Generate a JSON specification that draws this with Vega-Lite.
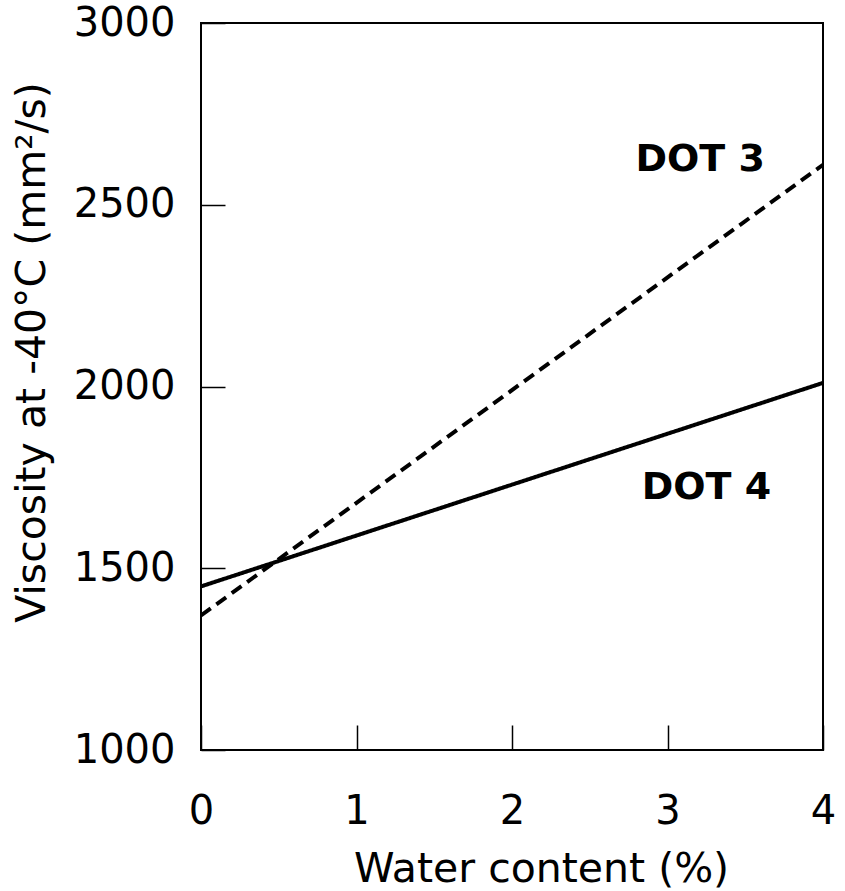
{
  "$schema": "https://vega.github.io/schema/vega-lite/v6.json",
  "width": 622,
  "height": 727,
  "autosize": "none",
  "padding": {"left": 201, "top": 23, "right": 22, "bottom": 141},
  "background": "white",
  "config": {
    "view": {"stroke": "black", "strokeWidth": 2},
    "font": "DejaVu Sans",
    "axis": {
      "domain": false,
      "grid": false,
      "tickColor": "black",
      "tickWidth": 1.5,
      "labelColor": "black",
      "titleColor": "black",
      "labelFont": "DejaVu Sans",
      "titleFont": "DejaVu Sans",
      "labelFontSize": 40,
      "titleFontSize": 41,
      "titleFontWeight": "normal"
    }
  },
  "datasets": {
    "curves": [
      {"fluid": "DOT 3", "water": 0, "viscosity": 1370},
      {"fluid": "DOT 3", "water": 4, "viscosity": 2610},
      {"fluid": "DOT 4", "water": 0, "viscosity": 1450},
      {"fluid": "DOT 4", "water": 4, "viscosity": 2010}
    ],
    "names": [
      {"name": "DOT 3", "water": 3.21, "viscosity": 2623},
      {"name": "DOT 4", "water": 3.25, "viscosity": 1721}
    ]
  },
  "layer": [
    {
      "data": {"name": "curves"},
      "mark": {"type": "line", "color": "black", "strokeWidth": 4, "clip": true},
      "encoding": {
        "x": {
          "field": "water", "type": "quantitative",
          "scale": {"domain": [0, 4], "nice": false, "zero": false},
          "axis": {
            "values": [0, 1, 2, 3, 4],
            "format": "d",
            "title": "Water content (%)",
            "tickSize": -25,
            "labelPadding": 66,
            "labelFlush": false,
            "titleX": 340,
            "titleY": 131,
            "titleAlign": "center",
            "titleBaseline": "alphabetic"
          }
        },
        "y": {
          "field": "viscosity", "type": "quantitative",
          "scale": {"domain": [1000, 3000], "nice": false, "zero": false},
          "axis": {
            "values": [1000, 1500, 2000, 2500, 3000],
            "format": "d",
            "title": "Viscosity at -40°C (mm²/s)",
            "tickSize": -24,
            "labelPadding": 50,
            "labelFlush": false,
            "titleX": -157,
            "titleY": 329,
            "titleAngle": -90,
            "titleAlign": "center",
            "titleBaseline": "alphabetic"
          }
        },
        "strokeDash": {
          "field": "fluid", "type": "nominal",
          "scale": {"domain": ["DOT 3", "DOT 4"], "range": [[12, 7], [1, 0]]},
          "legend": null
        }
      }
    },
    {
      "data": {"name": "names"},
      "mark": {"type": "text", "font": "DejaVu Sans", "fontSize": 38, "fontWeight": "bold", "color": "black", "align": "center", "baseline": "middle"},
      "encoding": {
        "x": {"field": "water", "type": "quantitative"},
        "y": {"field": "viscosity", "type": "quantitative"},
        "text": {"field": "name"}
      }
    }
  ]
}
